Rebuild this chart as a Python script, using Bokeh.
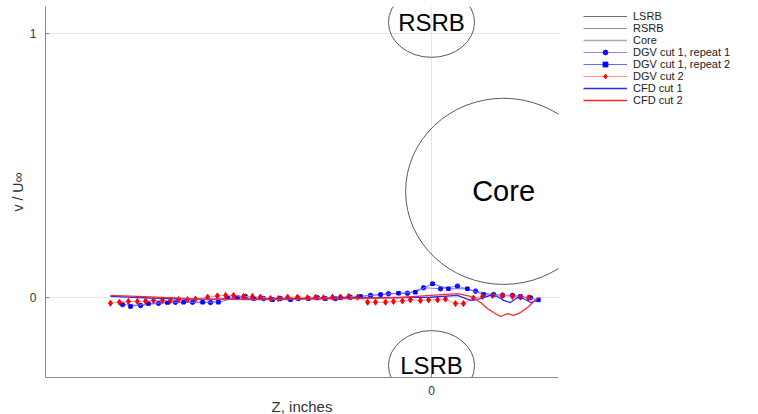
from bokeh.plotting import figure
from bokeh.models import (ColumnDataSource, Range1d, FixedTicker, Legend, LegendItem)
from bokeh.core.properties import value
from bokeh.embed import file_html
from bokeh.resources import INLINE

FONT = "Liberation Sans"

# Rod / core outlines (centre x, centre y, width, height) and their labels
body_names = ["LSRB", "RSRB", "Core"]
body_x = [0.0, 0.0, 0.273]
body_y = [-0.258, 1.042, 0.402]
body_w = [0.326, 0.326, 0.742]
body_h = [0.265, 0.265, 0.705]
body_font = ["24px", "24px", "29px"]

# DGV cut 1, repeat 1
dgv1a_z = [-1.170, -1.102, -1.034, -0.970, -0.905, -0.837, -0.773, -0.705, -0.636, -0.572,
           -0.504, -0.432, -0.364, -0.307, -0.231, -0.163, -0.091, -0.030, 0.034, 0.098,
           0.167, 0.235, 0.307, 0.375]
dgv1a_v = [-0.027, -0.030, -0.022, -0.018, -0.018, -0.019, 0.001, 0.004, -0.004, -0.004,
           -0.004, -0.001, -0.004, 0.001, 0.008, 0.014, 0.016, 0.037, 0.033, 0.043,
           0.024, 0.011, 0.008, -0.001]

# DGV cut 1, repeat 2
dgv1b_z = [-1.140, -1.072, -1.000, -0.939, -0.867, -0.807, -0.735, -0.674, -0.602, -0.534,
           -0.466, -0.402, -0.345, -0.269, -0.193, -0.125, -0.061, 0.004, 0.064, 0.136,
           0.197, 0.269, 0.337, 0.405]
dgv1b_v = [-0.034, -0.023, -0.019, -0.018, -0.018, -0.018, 0.001, -0.004, -0.008, -0.008,
           -0.004, -0.004, -0.001, 0.004, 0.011, 0.016, 0.020, 0.052, 0.033, 0.033,
           0.011, 0.008, 0.004, -0.009]

# DGV cut 2
dgv2_z = [-1.216, -1.182, -1.148, -1.114, -1.083, -1.053, -1.019, -0.989, -0.958, -0.924,
          -0.894, -0.848, -0.811, -0.780, -0.750, -0.712, -0.678, -0.648, -0.610, -0.580,
          -0.545, -0.508, -0.470, -0.439, -0.409, -0.375, -0.345, -0.314, -0.280, -0.242,
          -0.212, -0.174, -0.144, -0.110, -0.080, -0.042, -0.011, 0.023, 0.053, 0.091,
          0.121, 0.159, 0.193, 0.231, 0.269, 0.307, 0.337, 0.367]
dgv2_v = [-0.022, -0.018, -0.015, -0.015, -0.014, -0.011, -0.011, -0.011, -0.008, -0.008,
          -0.006, 0.001, 0.006, 0.008, 0.008, 0.004, 0.004, 0.001, -0.004, -0.004,
          0.001, 0.001, -0.001, 0.001, -0.001, 0.001, 0.002, 0.004, 0.001, -0.018,
          -0.018, -0.018, -0.015, -0.013, -0.009, -0.011, -0.009, -0.009, -0.006, -0.023,
          -0.023, -0.002, 0.004, 0.008, 0.008, 0.004, 0.001, -0.001]

# CFD cut 1
cfd1_z = [-1.216, -1.064, -0.875, -0.686, -0.496, -0.307, -0.117, -0.004, 0.098, 0.148,
          0.186, 0.223, 0.250, 0.273, 0.299, 0.326, 0.348, 0.375, 0.402]
cfd1_v = [0.004, -0.002, -0.006, -0.006, -0.004, -0.002, 0.000, 0.001, 0.008, -0.011,
          -0.004, 0.008, 0.004, -0.011, -0.019, 0.000, -0.004, -0.019, -0.011]

# CFD cut 2
cfd2_z = [-1.216, -1.064, -0.875, -0.686, -0.496, -0.307, -0.117, -0.004, 0.098, 0.148,
          0.186, 0.212, 0.235, 0.261, 0.288, 0.311, 0.337, 0.364, 0.383, 0.405]
cfd2_v = [0.008, 0.002, -0.006, -0.008, -0.006, -0.004, 0.000, 0.008, 0.015, 0.004,
          -0.019, -0.042, -0.057, -0.072, -0.061, -0.068, -0.057, -0.038, -0.019, 0.000]

x_ticks = [0]
y_ticks = [0, 1]

p = figure(frame_width=513, frame_height=371,
           min_border_left=45, min_border_right=200, min_border_top=6, min_border_bottom=37,
           x_range=Range1d(-1.462, 0.481), y_range=Range1d(-0.303, 1.102),
           output_backend="svg", toolbar_location=None,
           background_fill_color="white", border_fill_color="white")
p.outline_line_color = None

for ax, ticks in ((p.xaxis[0], x_ticks), (p.yaxis[0], y_ticks)):
    ax.ticker = FixedTicker(ticks=ticks)
    ax.axis_line_color = "#8a8a8a"
    ax.major_tick_line_color = "#8a8a8a"
    ax.major_tick_in = 4
    ax.major_tick_out = 0
    ax.minor_tick_line_color = None
    ax.major_label_text_font = FONT
    ax.major_label_text_font_size = "12px"
    ax.major_label_text_color = "#333333"
    ax.axis_label_text_font = FONT
    ax.axis_label_text_font_style = "normal"
    ax.axis_label_text_color = "#333333"

p.xaxis.axis_label = "Z, inches"
p.yaxis.axis_label = "v / U\u221e"
p.xaxis.axis_label_text_font_size = "15px"
p.yaxis.axis_label_text_font_size = "14px"
p.xaxis.major_label_standoff = 8
p.yaxis.major_label_standoff = 9
p.xaxis.axis_label_standoff = 0
p.yaxis.axis_label_standoff = 1

p.xgrid.ticker = FixedTicker(ticks=x_ticks)
p.ygrid.ticker = FixedTicker(ticks=y_ticks)
p.xgrid.grid_line_color = "#e6e6e6"
p.ygrid.grid_line_color = "#e6e6e6"

# body outlines
bodies = ColumnDataSource(dict(x=body_x, y=body_y, w=body_w, h=body_h,
                               name=body_names, fs=body_font))
p.ellipse(x="x", y="y", width="w", height="h", source=bodies,
          fill_color=None, line_color="#5a5a5a", line_width=1)
p.text(x="x", y="y", text="name", source=bodies, text_font=value(FONT),
       text_font_size="fs", text_align="center", text_baseline="middle",
       text_color="black")

# legend-only line entries for the outlines (a single NaN point draws nothing)
nan = float("nan")
r_l = p.line([nan], [nan], line_color="#6e6e6e", line_width=1)
r_r = p.line([nan], [nan], line_color="#8a8a8a", line_width=1)
r_c = p.line([nan], [nan], line_color="#a8a8a8", line_width=1.5)

# measurements
r1l = p.line(dgv1a_z, dgv1a_v, line_color="#8a8aff", line_width=1)
r1m = p.scatter(dgv1a_z, dgv1a_v, marker="circle", size=4.5, color="#1010ff")
r2l = p.line(dgv1b_z, dgv1b_v, line_color="#6a6aff", line_width=1)
r2m = p.scatter(dgv1b_z, dgv1b_v, marker="square", size=3.5, color="#0000ff")
r3l = p.line(dgv2_z, dgv2_v, line_color="#ff9090", line_width=1)
r3m = p.scatter(dgv2_z, dgv2_v, marker="diamond", size=6, color="#ff0000")

# simulations
r4 = p.line(cfd1_z, cfd1_v, line_color="#2a2aff", line_width=1.3)
r5 = p.line(cfd2_z, cfd2_v, line_color="#ff2a2a", line_width=1.3)

legend = Legend(items=[
    LegendItem(label="LSRB", renderers=[r_l]),
    LegendItem(label="RSRB", renderers=[r_r]),
    LegendItem(label="Core", renderers=[r_c]),
    LegendItem(label="DGV cut 1, repeat 1", renderers=[r1l, r1m]),
    LegendItem(label="DGV cut 1, repeat 2", renderers=[r2l, r2m]),
    LegendItem(label="DGV cut 2", renderers=[r3l, r3m]),
    LegendItem(label="CFD cut 1", renderers=[r4]),
    LegendItem(label="CFD cut 2", renderers=[r5]),
], location=(25, 271))
legend.label_text_font = FONT
legend.label_text_font_size = "11px"
legend.label_text_color = "#222222"
legend.label_height = 12
legend.glyph_height = 12
legend.glyph_width = 44
legend.label_standoff = 6
legend.spacing = 0
legend.padding = 0
legend.margin = 0
legend.border_line_color = None
legend.background_fill_alpha = 0
p.add_layout(legend, "right")

open("out.html", "w").write(file_html(p, INLINE))
